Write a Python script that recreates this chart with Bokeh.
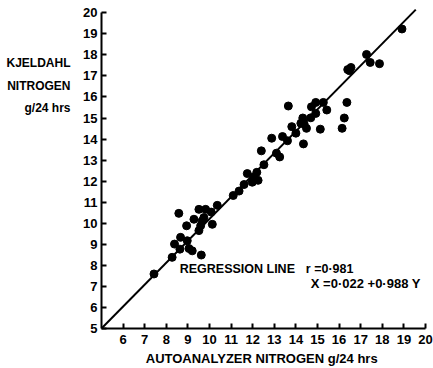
from bokeh.plotting import figure
from bokeh.models import FixedTicker, Label, Range1d, LinearAxis
from bokeh.embed import file_html
from bokeh.resources import INLINE

# Data
autoanalyzer = [18.91, 17.27, 17.44, 17.87, 16.40, 16.55, 16.48, 16.36, 16.24, 16.14,
                13.65, 14.92, 14.72, 15.27, 15.43, 14.92, 14.69, 14.32, 14.23, 14.38,
                14.49, 15.13, 13.81, 14.00, 13.61, 13.38, 14.35, 12.88, 12.40, 13.10,
                13.25, 12.52, 11.75, 12.19, 12.06, 12.25, 11.98, 11.60, 11.37, 11.10,
                10.36, 10.08, 9.82, 9.51, 8.58, 9.74, 9.66, 9.28, 8.94, 10.13,
                9.59, 9.51, 8.66, 8.97, 8.38, 8.63, 9.05, 9.20, 9.62, 8.27, 7.43]
kjeldahl = [19.23, 18.02, 17.64, 17.58, 17.30, 17.40, 17.25, 15.74, 15.00, 14.51,
            15.57, 15.74, 15.53, 15.74, 15.38, 15.22, 15.01, 15.00, 14.75, 14.72,
            14.51, 14.47, 14.59, 14.28, 13.92, 14.12, 13.77, 14.04, 13.44, 13.33,
            13.15, 12.78, 12.36, 12.42, 12.20, 12.04, 11.95, 11.84, 11.53, 11.32,
            10.85, 10.53, 10.66, 10.66, 10.47, 10.27, 10.11, 10.19, 9.88, 9.95,
            9.88, 9.65, 9.33, 9.17, 9.01, 8.77, 8.80, 8.69, 8.49, 8.38, 7.59]

line_x = [5.0, 19.55]
line_y = [5.0, 20.15]

x_ticks = list(range(6, 21))
y_ticks = list(range(5, 21))

y_title_lines = ["KJELDAHL", "NITROGEN", "g/24 hrs"]
y_title_pos = [17.6, 16.5, 15.47]

FONT = "Liberation Sans"

p = figure(width=433, height=368, output_backend="svg", toolbar_location=None,
           x_range=Range1d(5, 20), y_range=Range1d(5, 20.25),
           min_border_left=101, min_border_right=8, min_border_top=7, min_border_bottom=38)
p.outline_line_color = None
p.grid.visible = False
p.background_fill_color = "white"

for ax in (p.xaxis[0], p.yaxis[0]):
    ax.axis_line_width = 2
    ax.axis_line_color = "black"
    ax.major_tick_line_width = 2
    ax.major_tick_line_color = "black"
    ax.major_tick_in = 5
    ax.major_tick_out = 0
    ax.minor_tick_line_color = None
    ax.major_label_text_font = FONT
    ax.major_label_text_font_style = "bold"
    ax.major_label_text_font_size = "13px"
    ax.major_label_text_color = "black"
    ax.bounds = (5, 20)

p.xaxis.ticker = FixedTicker(ticks=x_ticks)
p.yaxis.ticker = FixedTicker(ticks=y_ticks)
p.xaxis.major_label_standoff = 6
p.yaxis.major_label_standoff = 4

p.xaxis.axis_label = "AUTOANALYZER NITROGEN  g/24 hrs"
p.xaxis.axis_label_text_font = FONT
p.xaxis.axis_label_text_font_style = "bold"
p.xaxis.axis_label_text_font_size = "13px"
p.xaxis.axis_label_text_color = "black"
p.xaxis.axis_label_standoff = 4

# y title as a label-only axis further left
title_axis = LinearAxis(ticker=FixedTicker(ticks=y_title_pos),
                        major_label_overrides={t: s for t, s in zip(y_title_pos, y_title_lines)})
title_axis.axis_line_color = None
title_axis.major_tick_line_color = None
title_axis.minor_tick_line_color = None
title_axis.major_label_text_font = FONT
title_axis.major_label_text_font_style = "bold"
title_axis.major_label_text_font_size = "12px"
title_axis.major_label_text_color = "black"
title_axis.major_label_standoff = 4
p.add_layout(title_axis, "left")

p.line(line_x, line_y, line_color="black", line_width=2)
p.scatter(autoanalyzer, kjeldahl, size=8, fill_color="black", line_color="black")

def lab(x, y, t, size):
    p.add_layout(Label(x=x, y=y, text=t, text_align="left", text_baseline="middle",
                       text_font=FONT, text_font_style="bold", text_font_size=size,
                       text_color="black"))

lab(8.62, 7.83, "REGRESSION LINE", "12.5px")
lab(14.46, 7.83, "r =0·981", "12.5px")
lab(14.69, 7.12, "X =0·022 +0·988 Y", "13px")

open("out.html", "w").write(file_html(p, INLINE))
